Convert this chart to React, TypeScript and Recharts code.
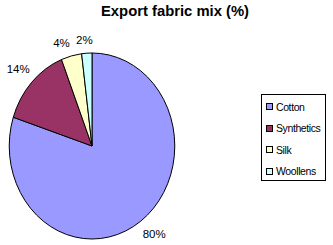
import { PieChart, Pie, Cell, Legend } from "recharts";

const fabrics = ["Cotton", "Synthetics", "Silk", "Woollens"];
const shares = [80, 14, 4, 2];
const colors = ["#9999ff", "#993366", "#ffffcc", "#ccffff"];

const data = fabrics.map((name, i) => ({ name, value: shares[i] }));

const RAD = Math.PI / 180;
// the reference pie is a bit narrower than it is tall
const SX = 0.89;

function pt(cx: number, cy: number, r: number, angle: number) {
  return {
    x: cx + Math.cos(-RAD * angle) * r * SX,
    y: cy + Math.sin(-RAD * angle) * r,
  };
}

function EllipseSector(props: any) {
  const { cx, cy, outerRadius, startAngle, endAngle, fill } = props;
  const a = pt(cx, cy, outerRadius, startAngle);
  const b = pt(cx, cy, outerRadius, endAngle);
  const large = Math.abs(startAngle - endAngle) > 180 ? 1 : 0;
  const sweep = startAngle > endAngle ? 1 : 0;
  const d = `M${cx},${cy} L${a.x},${a.y} A${outerRadius * SX},${outerRadius} 0 ${large} ${sweep} ${b.x},${b.y} Z`;
  return <path d={d} fill={fill} stroke="#000" strokeWidth={1} />;
}

// excel-ish placement: label box sits just off the rim
function renderLabel(props: any) {
  const { cx, cy, outerRadius, midAngle, value } = props;
  const edge = pt(cx, cy, outerRadius, midAngle);
  const c = Math.cos(-RAD * midAngle);
  const s = Math.sin(-RAD * midAngle);
  const x = edge.x + Math.sign(c) * Math.min(Math.abs(c) * 40, 13.5);
  const y = edge.y + Math.sign(s) * Math.min(Math.abs(s) * 20, 13);
  return (
    <text
      x={x}
      y={y}
      textAnchor="middle"
      dominantBaseline="central"
      fontFamily="Liberation Sans, Arial, sans-serif"
      fontSize={11.5}
      fill="#000"
    >
      {value}%
    </text>
  );
}

function LegendBox() {
  return (
    <div
      style={{
        border: "1px solid #000",
        background: "#fff",
        width: 65,
        height: 87,
        boxSizing: "border-box",
        padding: "1px 0 0 4px",
        fontFamily: "Liberation Sans, Arial, sans-serif",
        fontSize: 10.5,
        lineHeight: "12px",
        textAlign: "left",
      }}
    >
      {fabrics.map((f, i) => (
        <div
          key={f}
          style={{ display: "flex", alignItems: "center", height: 21.5, whiteSpace: "nowrap" }}
        >
          <span
            style={{
              width: 5,
              height: 5,
              border: "1px solid #000",
              background: colors[i],
              marginRight: 3,
              flex: "none",
            }}
          />
          <span style={{ letterSpacing: -0.4 }}>{f}</span>
        </div>
      ))}
    </div>
  );
}

export default function App() {
  return (
    <div style={{ position: "absolute", left: 0, top: 0, width: 333, height: 245, background: "#fff" }}>
      <div
        style={{
          position: "absolute",
          left: 0,
          width: 350,
          top: 3,
          textAlign: "center",
          fontFamily: "Liberation Sans, Arial, sans-serif",
          fontWeight: "bold",
          fontSize: 14.8,
        }}
      >
        Export fabric mix (%)
      </div>
      <PieChart width={333} height={245} margin={{ top: 0, right: 0, bottom: 0, left: 0 }}>
        <Pie
          data={data}
          dataKey="value"
          nameKey="name"
          cx={92}
          cy={146}
          outerRadius={93}
          startAngle={90}
          endAngle={-270}
          shape={EllipseSector}
          label={renderLabel}
          labelLine={false}
          isAnimationActive={false}
        >
          {data.map((d, i) => (
            <Cell key={d.name} fill={colors[i]} />
          ))}
        </Pie>
        <Legend
          content={<LegendBox />}
          wrapperStyle={{ position: "absolute", left: 261, top: 94, width: 65 }}
        />
      </PieChart>
    </div>
  );
}
